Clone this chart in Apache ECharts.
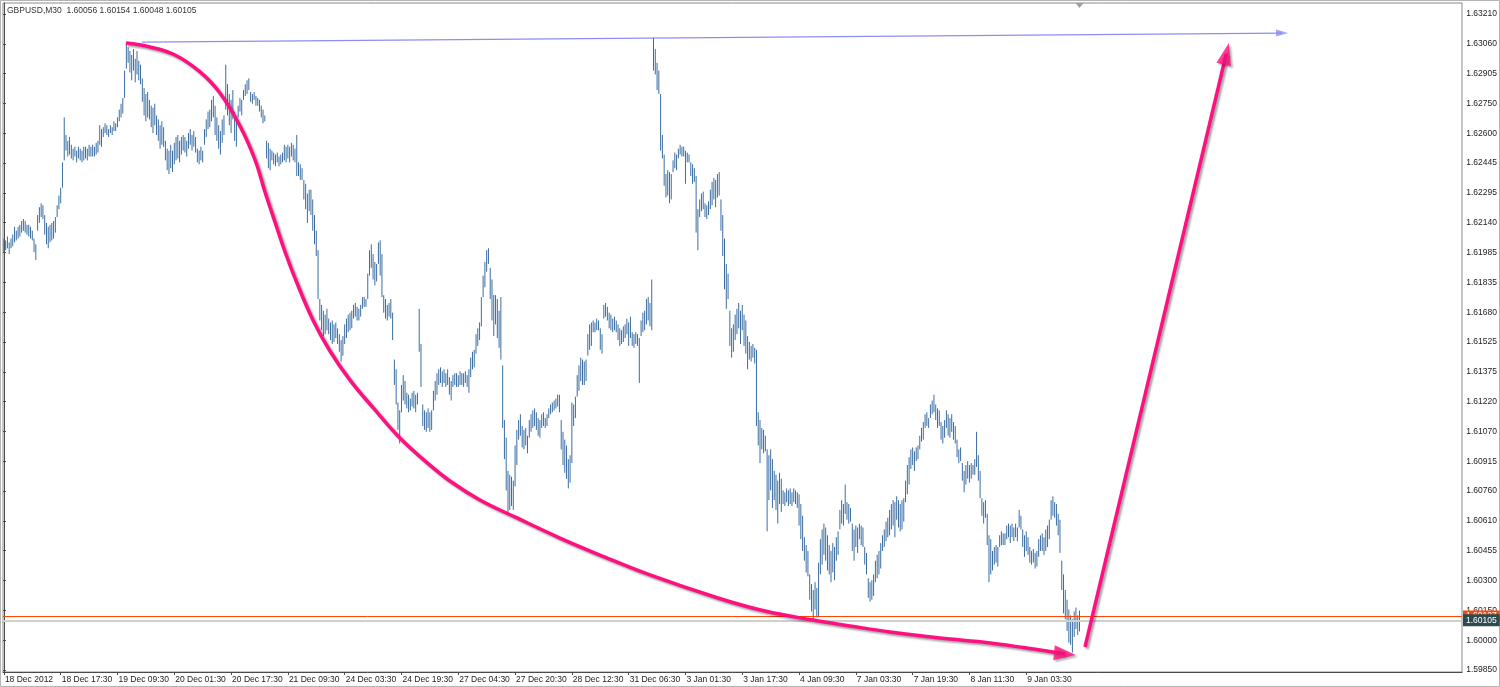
<!DOCTYPE html>
<html>
<head>
<meta charset="utf-8">
<script src="https://cdn.jsdelivr.net/npm/echarts@6/dist/echarts.min.js"></script>
<style>
html,body{margin:0;padding:0;background:#ffffff;}
#chart{width:1500px;height:687px;}
</style>
</head>
<body>
<div id="chart"></div>
<script>
// ---------- data ----------
const symbolName = 'GBPUSD';
const timeframe = 'M30';
const lastBarOHLC = [1.60056, 1.60154, 1.60048, 1.60105];
const bidPrice = 1.60105;
const askPrice = 1.60127;

const xTickLabels = ['18 Dec 2012','18 Dec 17:30','19 Dec 09:30','20 Dec 01:30','20 Dec 17:30','21 Dec 09:30','24 Dec 03:30','24 Dec 19:30','27 Dec 04:30','27 Dec 20:30','28 Dec 12:30','31 Dec 06:30','3 Jan 01:30','3 Jan 17:30','4 Jan 09:30','7 Jan 03:30','7 Jan 19:30','8 Jan 11:30','9 Jan 03:30'];
const yTickLabels = ['1.63210','1.63060','1.62905','1.62750','1.62600','1.62445','1.62295','1.62140','1.61985','1.61835','1.61680','1.61525','1.61375','1.61220','1.61070','1.60915','1.60760','1.60610','1.60455','1.60300','1.60150','1.60000','1.59850'];

const barHigh = [
1.6206,1.6205,1.6207,1.6204,1.6206,1.6208,1.6212,1.6210,1.6212,1.6213,
1.6215,1.6216,1.6215,1.6213,1.6213,1.6212,1.6210,1.6206,1.6203,1.6218,
1.6222,1.6224,1.6223,1.6218,1.6214,1.6212,1.6213,1.6214,1.6215,1.6217,
1.6223,1.6228,1.6232,1.6245,1.6268,1.6259,1.6256,1.6258,1.6254,1.6252,
1.6253,1.6251,1.6253,1.6252,1.6251,1.6253,1.6253,1.6252,1.6254,1.6253,
1.6254,1.6253,1.6255,1.6256,1.6264,1.6262,1.6263,1.6265,1.6264,1.6262,
1.6264,1.6263,1.6266,1.6265,1.6268,1.6272,1.6275,1.6278,1.6292,1.6306,
1.6304,1.6302,1.6300,1.6303,1.6298,1.6302,1.6297,1.6295,1.6288,1.6283,
1.6280,1.6281,1.6277,1.6274,1.6273,1.6275,1.6269,1.6267,1.6264,1.6266,
1.6263,1.6256,1.6252,1.6251,1.6254,1.6251,1.6255,1.6258,1.6259,1.6256,
1.6258,1.6259,1.6258,1.6256,1.6260,1.6262,1.6259,1.6261,1.6258,1.6252,
1.6251,1.6253,1.6251,1.6262,1.6267,1.6271,1.6272,1.6277,1.6279,1.6274,
1.6268,1.6264,1.6261,1.6267,1.6269,1.6295,1.6285,1.6280,1.6277,1.6282,
1.6271,1.6268,1.6274,1.6278,1.6277,1.6282,1.6285,1.6287,1.6288,1.6281,
1.6280,1.6281,1.6279,1.6278,1.6277,1.6274,1.6272,1.6269,1.6256,1.6255,
1.6252,1.6251,1.6250,1.6249,1.6250,1.6248,1.6249,1.6250,1.6254,1.6253,
1.6254,1.6253,1.6255,1.6254,1.6252,1.6259,1.6245,1.6244,1.6242,1.6236,
1.6234,1.6229,1.6231,1.6231,1.6226,1.6218,1.6210,1.6200,1.6175,1.6172,
1.6169,1.6167,1.6170,1.6165,1.6163,1.6164,1.6162,1.6163,1.6160,1.6157,
1.6154,1.6156,1.6162,1.6165,1.6167,1.6168,1.6169,1.6172,1.6173,1.6171,
1.6170,1.6172,1.6176,1.6176,1.6175,1.6188,1.6200,1.6203,1.6198,1.6194,
1.6193,1.6204,1.6205,1.6198,1.6177,1.6175,1.6172,1.6173,1.6175,1.6168,
1.6144,1.6139,1.6122,1.6118,1.6131,1.6136,1.6133,1.6127,1.6126,1.6124,
1.6127,1.6128,1.6126,1.6127,1.6170,1.6152,1.6121,1.6118,1.6117,1.6119,
1.6117,1.6118,1.6128,1.6133,1.6137,1.6139,1.6140,1.6138,1.6139,1.6137,
1.6139,1.6135,1.6133,1.6136,1.6137,1.6137,1.6136,1.6138,1.6137,1.6137,
1.6138,1.6136,1.6139,1.6145,1.6148,1.6149,1.6157,1.6160,1.6163,1.6176,
1.6187,1.6194,1.6200,1.6201,1.6191,1.6185,1.6177,1.6177,1.6175,1.6169,
1.6176,1.6141,1.6113,1.6104,1.6087,1.6085,1.6084,1.6082,1.6100,1.6108,
1.6113,1.6116,1.6110,1.6108,1.6109,1.6105,1.6113,1.6116,1.6118,1.6119,
1.6117,1.6114,1.6113,1.6116,1.6117,1.6114,1.6116,1.6119,1.6121,1.6122,
1.6123,1.6124,1.6126,1.6126,1.6113,1.6107,1.6103,1.6100,1.6093,1.6095,
1.6122,1.6121,1.6125,1.6136,1.6141,1.6145,1.6144,1.6143,1.6144,1.6157,
1.6162,1.6163,1.6164,1.6163,1.6165,1.6164,1.6160,1.6157,1.6172,1.6173,
1.6171,1.6168,1.6167,1.6165,1.6166,1.6164,1.6162,1.6160,1.6159,1.6161,
1.6162,1.6165,1.6163,1.6166,1.6158,1.6157,1.6158,1.6157,1.6155,1.6164,
1.6168,1.6169,1.6175,1.6176,1.6173,1.6185,1.6309,1.6303,1.6296,1.6292,
1.6280,1.6259,1.6249,1.6239,1.6241,1.6240,1.6239,1.6246,1.6250,1.6249,
1.6252,1.6254,1.6253,1.6253,1.6251,1.6250,1.6249,1.6245,1.6244,1.6242,
1.6238,1.6221,1.6226,1.6229,1.6230,1.6224,1.6223,1.6225,1.6231,1.6235,
1.6237,1.6236,1.6239,1.6240,1.6226,1.6218,1.6206,1.6193,1.6188,1.6169,
1.6160,1.6162,1.6167,1.6170,1.6173,1.6169,1.6172,1.6167,1.6164,1.6156,
1.6153,1.6151,1.6152,1.6150,1.6149,1.6117,1.6113,1.6109,1.6108,1.6105,
1.6098,1.6095,1.6098,1.6093,1.6087,1.6085,1.6082,1.6086,1.6083,1.6077,
1.6076,1.6078,1.6077,1.6078,1.6076,1.6078,1.6077,1.6076,1.6075,1.6070,
1.6064,1.6053,1.6049,1.6046,1.6034,1.6029,1.6026,1.6030,1.6027,1.6040,
1.6052,1.6057,1.6060,1.6058,1.6054,1.6049,1.6046,1.6050,1.6048,1.6053,
1.6056,1.6067,1.6072,1.6070,1.6080,1.6071,1.6070,1.6068,1.6060,1.6057,
1.6059,1.6058,1.6060,1.6059,1.6058,1.6048,1.6045,1.6032,1.6030,1.6031,
1.6034,1.6041,1.6044,1.6046,1.6050,1.6054,1.6057,1.6061,1.6063,1.6067,
1.6070,1.6072,1.6071,1.6074,1.6072,1.6070,1.6072,1.6073,1.6082,1.6090,
1.6094,1.6098,1.6099,1.6097,1.6099,1.6100,1.6105,1.6109,1.6112,1.6116,
1.6117,1.6114,1.6121,1.6123,1.6126,1.6121,1.6119,1.6118,1.6112,1.6110,
1.6113,1.6118,1.6116,1.6114,1.6116,1.6112,1.6110,1.6103,1.6098,1.6099,
1.6091,1.6087,1.6090,1.6092,1.6090,1.6091,1.6090,1.6093,1.6107,1.6095,
1.6087,1.6073,1.6071,1.6072,1.6065,1.6054,1.6052,1.6046,1.6048,1.6049,
1.6048,1.6054,1.6056,1.6055,1.6055,1.6059,1.6060,1.6059,1.6060,1.6058,
1.6060,1.6058,1.6067,1.6064,1.6057,1.6054,1.6056,1.6053,1.6048,1.6046,
1.6047,1.6045,1.6046,1.6052,1.6054,1.6055,1.6053,1.6057,1.6059,1.6062,
1.6072,1.6074,1.6071,1.6070,1.6065,1.6062,1.6041,1.6034,1.6026,1.6021,
1.6016,1.6013,1.6011,1.6015,1.6017,1.6013,1.60154
];

const barLow = [
1.6199,1.6200,1.6201,1.6198,1.6201,1.6202,1.6204,1.6205,1.6206,1.6207,
1.6209,1.6210,1.6209,1.6208,1.6207,1.6206,1.6205,1.6199,1.6195,1.6210,
1.6214,1.6217,1.6216,1.6208,1.6203,1.6201,1.6204,1.6205,1.6206,1.6209,
1.6217,1.6221,1.6224,1.6232,1.6246,1.6251,1.6248,1.6249,1.6247,1.6246,
1.6248,1.6245,1.6247,1.6246,1.6245,1.6246,1.6247,1.6246,1.6248,1.6248,
1.6248,1.6248,1.6249,1.6250,1.6254,1.6253,1.6258,1.6260,1.6259,1.6258,
1.6260,1.6259,1.6261,1.6261,1.6263,1.6266,1.6268,1.6270,1.6278,1.6293,
1.6296,1.6291,1.6287,1.6292,1.6286,1.6290,1.6287,1.6285,1.6276,1.6269,
1.6266,1.6268,1.6267,1.6263,1.6260,1.6264,1.6259,1.6256,1.6252,1.6254,
1.6253,1.6246,1.6241,1.6239,1.6242,1.6240,1.6244,1.6246,1.6247,1.6245,
1.6249,1.6251,1.6250,1.6248,1.6252,1.6254,1.6251,1.6253,1.6250,1.6245,
1.6244,1.6246,1.6245,1.6254,1.6258,1.6262,1.6263,1.6266,1.6268,1.6259,
1.6256,1.6252,1.6249,1.6255,1.6259,1.6272,1.6269,1.6264,1.6260,1.6267,
1.6256,1.6253,1.6268,1.6271,1.6269,1.6277,1.6279,1.6280,1.6282,1.6276,
1.6275,1.6277,1.6274,1.6274,1.6271,1.6268,1.6265,1.6266,1.6247,1.6242,
1.6241,1.6246,1.6244,1.6243,1.6245,1.6243,1.6244,1.6245,1.6246,1.6245,
1.6247,1.6245,1.6248,1.6246,1.6245,1.6238,1.6238,1.6236,1.6236,1.6226,
1.6221,1.6214,1.6220,1.6218,1.6210,1.6203,1.6197,1.6175,1.6164,1.6159,
1.6156,1.6157,1.6159,1.6157,1.6154,1.6152,1.6153,1.6155,1.6152,1.6148,
1.6143,1.6146,1.6152,1.6155,1.6158,1.6159,1.6160,1.6165,1.6166,1.6164,
1.6164,1.6166,1.6170,1.6171,1.6171,1.6175,1.6187,1.6191,1.6185,1.6182,
1.6184,1.6193,1.6187,1.6176,1.6168,1.6165,1.6164,1.6166,1.6165,1.6154,
1.6131,1.6121,1.6108,1.6101,1.6117,1.6123,1.6121,1.6119,1.6117,1.6118,
1.6120,1.6119,1.6117,1.6121,1.6148,1.6130,1.6110,1.6108,1.6107,1.6109,
1.6107,1.6108,1.6118,1.6123,1.6126,1.6131,1.6132,1.6130,1.6132,1.6130,
1.6131,1.6126,1.6123,1.6130,1.6131,1.6130,1.6130,1.6131,1.6131,1.6130,
1.6132,1.6130,1.6127,1.6135,1.6139,1.6140,1.6147,1.6151,1.6154,1.6161,
1.6176,1.6181,1.6189,1.6193,1.6175,1.6164,1.6156,1.6162,1.6155,1.6150,
1.6144,1.6109,1.6093,1.6077,1.6066,1.6067,1.6069,1.6067,1.6079,1.6090,
1.6103,1.6105,1.6099,1.6098,1.6100,1.6096,1.6104,1.6107,1.6109,1.6110,
1.6108,1.6105,1.6104,1.6109,1.6110,1.6109,1.6110,1.6114,1.6116,1.6117,
1.6118,1.6119,1.6120,1.6117,1.6098,1.6090,1.6086,1.6083,1.6078,1.6081,
1.6091,1.6110,1.6114,1.6125,1.6128,1.6133,1.6131,1.6131,1.6133,1.6146,
1.6149,1.6151,1.6158,1.6158,1.6159,1.6159,1.6149,1.6147,1.6165,1.6166,
1.6164,1.6160,1.6159,1.6158,1.6159,1.6158,1.6154,1.6151,1.6152,1.6153,
1.6155,1.6157,1.6151,1.6155,1.6151,1.6150,1.6152,1.6151,1.6132,1.6156,
1.6158,1.6159,1.6162,1.6164,1.6161,1.6159,1.6292,1.6290,1.6282,1.6280,
1.6251,1.6247,1.6233,1.6227,1.6228,1.6224,1.6226,1.6240,1.6242,1.6241,
1.6247,1.6249,1.6248,1.6248,1.6234,1.6245,1.6245,1.6238,1.6234,1.6235,
1.6209,1.6200,1.6217,1.6220,1.6221,1.6217,1.6216,1.6218,1.6221,1.6223,
1.6226,1.6222,1.6227,1.6228,1.6210,1.6197,1.6180,1.6170,1.6175,1.6151,
1.6145,1.6148,1.6154,1.6157,1.6160,1.6152,1.6159,1.6151,1.6147,1.6139,
1.6144,1.6143,1.6145,1.6142,1.6110,1.6100,1.6091,1.6098,1.6096,1.6097,
1.6056,1.6072,1.6077,1.6068,1.6072,1.6067,1.6060,1.6070,1.6066,1.6070,
1.6069,1.6071,1.6069,1.6070,1.6069,1.6071,1.6070,1.6068,1.6059,1.6052,
1.6046,1.6041,1.6035,1.6033,1.6021,1.6015,1.6010,1.6016,1.6012,1.6012,
1.6034,1.6039,1.6044,1.6041,1.6036,1.6034,1.6030,1.6035,1.6031,1.6041,
1.6044,1.6057,1.6060,1.6059,1.6065,1.6062,1.6060,1.6061,1.6046,1.6041,
1.6048,1.6045,1.6052,1.6049,1.6048,1.6039,1.6034,1.6022,1.6020,1.6021,
1.6023,1.6030,1.6032,1.6034,1.6037,1.6046,1.6048,1.6051,1.6053,1.6054,
1.6057,1.6059,1.6053,1.6062,1.6058,1.6056,1.6057,1.6061,1.6071,1.6075,
1.6080,1.6088,1.6090,1.6087,1.6092,1.6093,1.6098,1.6102,1.6103,1.6109,
1.6110,1.6109,1.6114,1.6116,1.6117,1.6113,1.6109,1.6110,1.6103,1.6101,
1.6104,1.6109,1.6105,1.6104,1.6107,1.6103,1.6101,1.6094,1.6091,1.6092,
1.6082,1.6076,1.6080,1.6083,1.6081,1.6083,1.6085,1.6085,1.6089,1.6082,
1.6073,1.6064,1.6060,1.6063,1.6049,1.6030,1.6034,1.6036,1.6039,1.6040,
1.6038,1.6048,1.6049,1.6049,1.6049,1.6052,1.6053,1.6050,1.6053,1.6051,
1.6053,1.6051,1.6058,1.6057,1.6048,1.6043,1.6046,1.6044,1.6040,1.6039,
1.6040,1.6037,1.6038,1.6043,1.6046,1.6046,1.6044,1.6046,1.6048,1.6052,
1.6062,1.6064,1.6063,1.6059,1.6054,1.6045,1.6026,1.6014,1.6011,1.6005,
1.5999,1.5998,1.5994,1.6002,1.6006,1.6003,1.60048
];

// hand-drawn annotations, in (bar index, price) coordinates
const curvePoints = [
[68.8,1.63061],[82.3,1.63041],[96.4,1.63000],[110.5,1.62913],[121.7,1.62805],[133.0,1.62636],
[141.5,1.62462],[147.1,1.62298],[152.7,1.62145],[158.4,1.61991],[165.1,1.61832],[174.1,1.61643],
[183.7,1.61484],[195.0,1.61335],[209.1,1.61182],[222.0,1.61049],[237.2,1.60921],[251.3,1.60818],
[268.2,1.60721],[289.1,1.60629],[313.3,1.60526],[335.8,1.60439],[364.0,1.60337],[402.3,1.60219],
[428.8,1.60152],[455.8,1.60106],[476.7,1.60076],[499.2,1.60045],[527.4,1.60014],[555.6,1.59989],
[583.7,1.59953],[597.8,1.59933]
];
const upArrowPoints = [[609.1,1.59968],[688.7,1.63006]];
const trendPoints = [[77.8,1.63066],[720.1,1.63112]];

// ---------- layout constants ----------
const slotCount = 822;        // bar slots across the plot (incl. right shift area)
const labelEvery = 32;        // bars between time labels
const barColor = '#3b6da3';
const pink = '#ff1080';
const fontFam = '"Liberation Sans", Arial, sans-serif';

const categories = Array.from({length: slotCount}, (_, i) =>
  (i % labelEvery === 0 && i / labelEvery < xTickLabels.length) ? xTickLabels[i / labelEvery] : '');
const showTick = (idx) => idx % labelEvery === 0 && idx / labelEvery < xTickLabels.length;

const barData = barLow.map((l, i) => [i, l, barHigh[i]]);

const chart = echarts.init(document.getElementById('chart'), null, {renderer: 'canvas'});

const shadow = {shadowColor: 'rgba(0,0,0,0.35)', shadowBlur: 2, shadowOffsetX: 2, shadowOffsetY: 2};
const noShadow = {shadowBlur: 0, shadowOffsetX: 0, shadowOffsetY: 0, shadowColor: 'transparent'};

chart.setOption({
  animation: false,
  backgroundColor: '#ffffff',
  title: {
    text: symbolName + ',' + timeframe + '  ' + lastBarOHLC.map(v => v.toFixed(5)).join(' '),
    left: 7, top: 6, padding: 0,
    textStyle: {fontSize: 8.5, fontWeight: 'normal', color: '#333', fontFamily: fontFam}
  },
  grid: [
    {left: 3, top: 3, width: 1459, height: 669, show: true, borderColor: '#8a8a8a', borderWidth: 1, backgroundColor: '#ffffff'},
    {left: 3, top: 14, width: 1459, height: 656, show: false}
  ],
  xAxis: [
    {
      gridIndex: 0, type: 'category', data: categories, boundaryGap: true,
      axisLine: {show: true, lineStyle: {color: '#4a4a4a', width: 1}},
      axisTick: {show: true, alignWithLabel: true, interval: showTick, length: 3, lineStyle: {color: '#4a4a4a'}},
      axisLabel: {interval: showTick, align: 'left', margin: 3, fontSize: 8.5, color: '#222', fontFamily: fontFam, padding: [0,0,0,1]},
      splitLine: {show: false}
    },
    {gridIndex: 0, type: 'value', min: -0.5, max: slotCount - 0.5, show: false},
    {gridIndex: 1, type: 'value', show: false}
  ],
  yAxis: [
    {
      gridIndex: 0, type: 'value', min: 1.59840, max: 1.63266, position: 'right', scale: true,
      axisLine: {show: true, lineStyle: {color: '#4a4a4a', width: 1}},
      axisTick: {show: false}, axisLabel: {show: false}, splitLine: {show: false}
    },
    {
      gridIndex: 1, type: 'category', data: yTickLabels, inverse: true, boundaryGap: false, position: 'right',
      axisLine: {show: false},
      axisTick: {show: true, length: 3, interval: 0, lineStyle: {color: '#4a4a4a'}},
      axisLabel: {interval: 0, margin: 5, fontSize: 8.5, color: '#222', fontFamily: fontFam},
      splitLine: {show: false}
    }
  ],
  series: [
    {
      name: 'bars', type: 'custom', xAxisIndex: 0, yAxisIndex: 0,
      data: barData,
      encode: {x: 0, y: [1, 2]},
      renderItem: function (params, api) {
        const i = api.value(0);
        const lo = api.coord([i, api.value(1)]);
        const hi = api.coord([i, api.value(2)]);
        return {type: 'line', shape: {x1: lo[0], y1: lo[1], x2: hi[0], y2: hi[1]},
                style: {stroke: barColor, lineWidth: 1}};
      },
      z: 3, silent: true,
      markLine: {
        silent: true, symbol: 'none', animation: false, precision: 5,
        data: [
          {yAxis: askPrice, lineStyle: Object.assign({color: '#ff4500', width: 1, type: 'solid'}, noShadow),
           label: {show: true, position: 'end', distance: 1, formatter: p => Number(p.value).toFixed(5),
                   backgroundColor: '#ff4500', color: '#ffffff', fontSize: 8.5, fontFamily: fontFam, padding: [1,3,1,3]}},
          {yAxis: bidPrice, lineStyle: Object.assign({color: '#cfcfcf', width: 2, type: 'solid'}, noShadow),
           label: {show: true, position: 'end', distance: 1, formatter: p => Number(p.value).toFixed(5),
                   backgroundColor: '#2d4b4f', color: '#ffffff', fontSize: 8.5, fontFamily: fontFam, padding: [2,3,1,3]}}
        ]
      }
    },
    {
      name: 'curve', type: 'line', xAxisIndex: 1, yAxisIndex: 0,
      data: curvePoints, smooth: 0.4, symbol: 'none', silent: true,
      lineStyle: Object.assign({color: pink, width: 3.5}, shadow),
      z: 5
    },
    {
      name: 'upArrow', type: 'line', xAxisIndex: 1, yAxisIndex: 0,
      data: upArrowPoints, symbol: 'none', silent: true,
      lineStyle: Object.assign({color: pink, width: 3.5}, shadow), z: 5
    },
    {
      name: 'trend', type: 'line', xAxisIndex: 1, yAxisIndex: 0,
      data: trendPoints, symbol: 'none', silent: true,
      lineStyle: {color: '#8c8cf5', width: 1.2}, z: 4
    },
    {
      name: 'heads', type: 'scatter', xAxisIndex: 1, yAxisIndex: 0, silent: true, z: 6,
      data: [
        {value: curvePoints[curvePoints.length - 1], symbol: 'triangle', symbolSize: [15, 22], symbolRotate: -96,
         itemStyle: Object.assign({color: pink}, shadow)},
        {value: upArrowPoints[1], symbol: 'triangle', symbolSize: [15, 22], symbolRotate: -13.5,
         itemStyle: Object.assign({color: pink}, shadow)},
        {value: trendPoints[1], symbol: 'triangle', symbolSize: [7, 12], symbolRotate: -89.5,
         itemStyle: {color: '#8c8cf5'}}
      ]
    }
  ]
});

// chart chrome: outer frame and the chart-shift marker above the last bar
const shiftX = chart.convertToPixel({xAxisIndex: 0}, barData.length - 1);
chart.setOption({
  graphic: [
    {type: 'rect', silent: true, shape: {x: 0.5, y: 0.5, width: 1499, height: 686},
     style: {fill: null, stroke: '#b4b4b4', lineWidth: 1}},
    {type: 'polygon', silent: true, shape: {points: [[shiftX - 4, 3], [shiftX + 4, 3], [shiftX, 8]]},
     style: {fill: '#a0a0a0'}}
  ]
});
</script>
</body>
</html>
